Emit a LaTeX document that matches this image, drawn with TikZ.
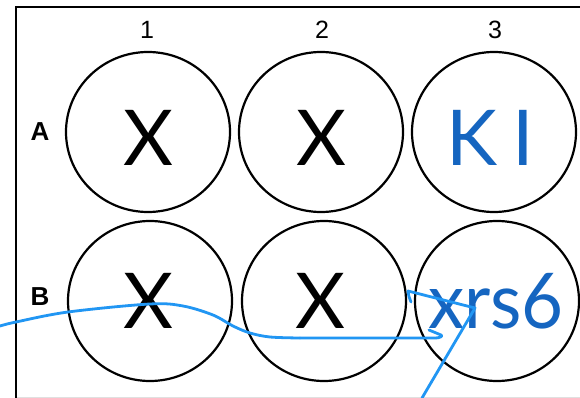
\documentclass[tikz,border=0pt]{standalone}
\usepackage{fontspec}
\usepackage{graphicx}
\setmainfont{Liberation Sans}
\newfontfamily\wellfont{Lato}
\usetikzlibrary{shapes.geometric}
\definecolor{labelblue}{HTML}{1565C0}
\definecolor{penblue}{HTML}{2196F3}
\tikzset{
  well/.style={draw, ellipse, line width=2.2pt, minimum width=164pt, minimum height=160pt, inner sep=0pt},
  wellx/.style={anchor=base, inner sep=0pt, font=\wellfont\fontsize{77}{77}\selectfont},
  wellblue/.style={wellx, text=labelblue},
  collabel/.style={inner sep=0pt, font=\fontsize{25}{25}\selectfont},
  rowlabel/.style={inner sep=0pt, font=\bfseries\fontsize{26}{26}\selectfont},
  pen/.style={draw=penblue, line width=2.8pt, line cap=round, line join=round}
}
\begin{document}
\begin{tikzpicture}[x=1pt, y=-1pt]
  \useasboundingbox (0,0) rectangle (580,398);
  \fill[white] (0,0) rectangle (580,398);
  % plate frame
  \draw[black!12, line width=1pt] (16,397) -- (580,397);
  \draw[line width=2.6pt] (16,398) -- (16,7) -- (580,7);
  % column and row labels
  \node[collabel] (c1) at (147,30) {1};
  \node[collabel] (c2) at (322,30) {2};
  \node[collabel] (c3) at (495,30) {3};
  \node[rowlabel] (ra) at (40,132) {A};
  \node[rowlabel] (rb) at (40,297) {B};
  % wells
  \node[well] (a1) at (148,132) {};
  \node[well] (a2) at (321,132) {};
  \node[well] (a3) at (494,132) {};
  \node[well] (b1) at (150,301) {};
  \node[well] (b2) at (324,301) {};
  \node[well] (b3) at (497,301) {};
  % well contents
  \node[wellx] (ta1) at (148,165) {X};
  \node[wellx] (ta2) at (321,165) {X};
  \node[wellblue] (ta3) at (490,165) {K\kern15pt I};
  \node[wellx] (tb1) at (148,328) {X};
  \node[wellx] (tb2) at (320,328) {X};
  \node[wellblue] (tb3) at (496,328) {\scalebox{0.94}[1]{xrs6}};
  % hand-drawn pen strokes
  \draw[pen] plot[smooth, tension=0.55] coordinates
    {(0,326) (16,322) (68,312) (150,304) (183,306) (213,315) (233,326) (250,333) (270,337) (300,338)};
  \draw[pen] (300,338) -- (434,338) .. controls (441,338) and (443,336) .. (441,335) -- (429,330);
  \draw[pen] (411,302) .. controls (409,297) and (408,294) .. (408,291) -- (475,308) -- (422,398);
\end{tikzpicture}
\end{document}
